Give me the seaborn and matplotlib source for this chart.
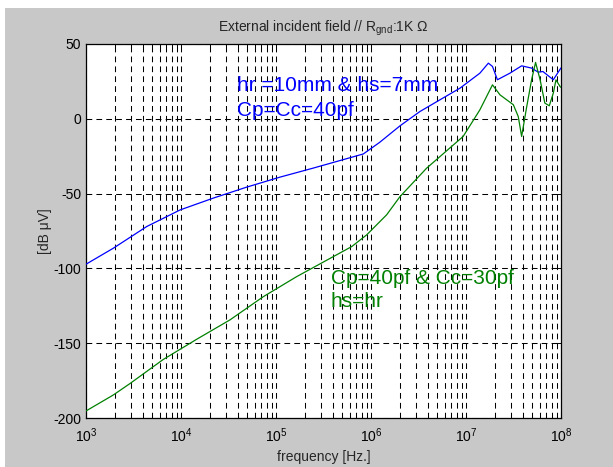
import matplotlib
matplotlib.use("Agg")
import matplotlib.pyplot as plt
import seaborn as sns
import pandas as pd
from matplotlib.patches import Rectangle
from matplotlib.ticker import LogLocator, NullFormatter, FixedLocator

# ---- data ----
blue_freq = [1e3, 1.94e3, 4.36e3, 9.8e3, 2.19e4, 4.9e4, 1.1e5, 2.45e5, 4.72e5, 8.3e5,
             1.23e6, 2.02e6, 3.28e6, 5.32e6, 8.65e6, 1.4e7, 1.72e7, 1.9e7, 2.14e7,
             2.9e7, 3.85e7, 4.9e7, 5.75e7, 6.45e7, 8.3e7, 9.8e7, 1e8]
blue_db = [-97.2, -86.5, -72.0, -60.9, -53.0, -45.7, -39.0, -33.0, -27.9, -23.5,
           -15.8, -4.7, 4.9, 12.7, 20.5, 30.5, 37.2, 35.0, 26.1,
           30.5, 35.4, 33.9, 31.2, 31.6, 26.1, 33.2, 34.0]

green_freq = [1e3, 1.94e3, 2.9e3, 6.46e3, 1.46e4, 3.28e4, 7.35e4, 1.65e5, 2.9e5, 6.27e5,
              9.0e5, 1.46e6, 2.02e6, 3.85e6, 9.33e6, 1.4e7, 1.9e7, 2.28e7, 3.15e7,
              3.55e7, 3.85e7, 4.36e7, 4.9e7, 5.4e7, 6.03e7, 6.76e7, 7.53e7, 8.3e7,
              8.85e7, 9.77e7, 1e8]
green_db = [-195.3, -184.6, -177.0, -161.0, -147.4, -134.4, -118.9, -105.5, -97.0, -85.4,
            -77.6, -64.2, -52.0, -33.0, -11.8, 6.0, 22.7, 16.0, 9.4,
            1.5, -11.8, 8.2, 26.0, 37.7, 26.0, 10.5, 8.7, 17.2,
            26.0, 21.6, 21.0]

y_ticks = [-200, -150, -100, -50, 0, 50]
x_major = [1e3, 1e4, 1e5, 1e6, 1e7, 1e8]

title_text = r"External incident field // R$_{\mathrm{gnd}}$:1K $\Omega$"
xlabel_text = "frequency [Hz.]"
ylabel_text = "[dB \u03bcV]"
blue_lines = ["hr =10mm & hs=7mm", "Cp=Cc=40pf"]
green_lines = ["Cp=40pf & Cc=30pf", "hs=hr"]

# ---- style ----
sns.set_style("white")
plt.rcParams["font.family"] = ["Liberation Sans", "DejaVu Sans"]
plt.rcParams["mathtext.fontset"] = "custom"
plt.rcParams["mathtext.rm"] = "Liberation Sans"
plt.rcParams["mathtext.it"] = "Liberation Sans:italic"
plt.rcParams["mathtext.bf"] = "Liberation Sans:bold"

BG = "#c8c8c8"
fig = plt.figure(figsize=(6.13, 4.67), dpi=100, facecolor="white")
fig.patches.append(Rectangle((5 / 613, 0), 1 - 5 / 613, 1 - 8 / 467,
                             transform=fig.transFigure, facecolor=BG,
                             edgecolor="none", zorder=-10))
ax = fig.add_axes([86 / 613, 1 - 418 / 467, 475 / 613, 374 / 467])
ax.set_facecolor("white")

df_b = pd.DataFrame({"f": blue_freq, "v": blue_db})
df_g = pd.DataFrame({"f": green_freq, "v": green_db})
sns.lineplot(data=df_b, x="f", y="v", ax=ax, color="#0000ff", linewidth=0.9,
             estimator=None, sort=False, zorder=3)
sns.lineplot(data=df_g, x="f", y="v", ax=ax, color="#008000", linewidth=0.9,
             estimator=None, sort=False, zorder=3)

ax.set_xscale("log")
ax.set_xlim(1e3, 1e8)
ax.set_ylim(-200, 50)
ax.xaxis.set_major_locator(FixedLocator(x_major))
ax.xaxis.set_minor_locator(LogLocator(base=10, subs=range(2, 10), numticks=20))
ax.xaxis.set_minor_formatter(NullFormatter())
ax.set_yticks(y_ticks)
ax.set_yticklabels([str(v) for v in y_ticks])

grid_kw = dict(color="black", linewidth=0.75, linestyle=(0, (5.5, 4)))
ax.grid(True, which="major", axis="both", **grid_kw)
ax.grid(True, which="minor", axis="x", **grid_kw)

ax.tick_params(which="both", direction="in", top=True, right=True,
               labelsize=10, colors="black")
ax.tick_params(which="major", length=4, width=0.7)
ax.tick_params(which="minor", length=2.5, width=0.7)
ax.tick_params(axis="x", pad=6)
for s in ax.spines.values():
    s.set_color("black")
    s.set_linewidth(0.9)

ax.set_title(title_text, fontsize=10, pad=9)
ax.set_xlabel(xlabel_text, fontsize=10, labelpad=4)
ax.set_ylabel(ylabel_text, fontsize=10, labelpad=1)

# annotations
ax.text(3.88e4, 18.3, blue_lines[0], color="#0000ff", fontsize=15, va="baseline", ha="left")
ax.text(3.88e4, 2.0, blue_lines[1], color="#0000ff", fontsize=15, va="baseline", ha="left")
ax.text(3.79e5, -110.4, green_lines[0], color="#008000", fontsize=15, va="baseline", ha="left")
ax.text(3.79e5, -125.8, green_lines[1], color="#008000", fontsize=15, va="baseline", ha="left")

fig.savefig("out.png", dpi=100, facecolor=fig.get_facecolor())
